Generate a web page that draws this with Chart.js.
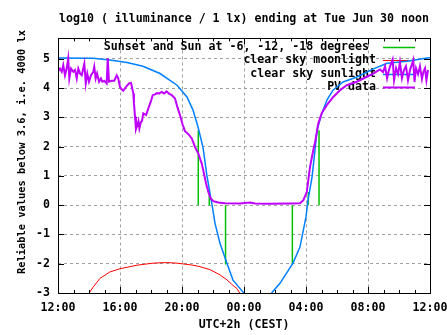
<!DOCTYPE html>
<html>
<head>
<meta charset="utf-8">
<title>illuminance</title>
<style>
  html, body { margin: 0; padding: 0; background: #fff; }
  #chart { display: block; }
</style>
</head>
<body>
<canvas id="chart" width="447" height="335"></canvas>
<script src="https://cdn.jsdelivr.net/npm/chart.js"></script>
<script>
// hours counted from 12:00 noon of the previous day
var xTickHours = [0, 4, 8, 12, 16, 20, 24];
var xTickLabels = ['12:00', '16:00', '20:00', '00:00', '04:00', '08:00', '12:00'];
var yTicks = [-3, -2, -1, 0, 1, 2, 3, 4, 5];

var titleText = 'log10 ( illuminance / 1 lx) ending at Tue Jun 30 noon';
var xTitle = 'UTC+2h (CEST)';
var yTitle = 'Reliable values below 3.6, i.e. 4000 lx';

// green impulses: sunset/sunrise and sun at -6, -12 degrees
var eventHours = [9.05, 9.76, 10.81, 15.12, 16.15, 16.84];
var eventTops = [2.56, 0.57, -2.03, -2.03, 0.45, 2.56];

var moonHours = [1.95, 2.28, 2.71, 3.35, 4.0, 5.1, 6.13, 7.0, 7.68, 8.71, 9.16, 9.8, 10.45, 10.9, 11.29, 11.55, 11.74];
var moonLog = [-3.05, -2.79, -2.5, -2.28, -2.17, -2.05, -1.98, -1.96, -1.98, -2.05, -2.1, -2.2, -2.38, -2.55, -2.74, -2.85, -3.02];

var sunHours = [0, 2.26, 3.35, 4.45, 5.48, 6.58, 7.68, 8.32, 8.71, 9.03, 9.35, 9.61, 9.94, 10.13, 10.45, 10.9, 11.29, 11.94, 12.1, 12.9, 13.7, 13.81, 14.32, 15.16, 15.61, 16.0, 16.13, 16.39, 16.58, 16.71, 17.03, 17.35, 17.74, 18.39, 19.29, 20.32, 21.23, 22.52, 23.81, 24];
var sunLog = [5.03, 5.02, 4.96, 4.88, 4.75, 4.50, 4.10, 3.70, 3.25, 2.68, 1.99, 1.00, 0.00, -0.62, -1.30, -1.98, -2.56, -2.97, -3.1, -3.7, -3.1, -2.98, -2.67, -1.98, -1.43, -0.40, 0.17, 0.96, 1.88, 2.56, 3.15, 3.59, 3.93, 4.21, 4.38, 4.65, 4.85, 4.92, 5.03, 5.04];

var pvHours = [0.02, 0.13, 0.24, 0.34, 0.45, 0.56, 0.66, 0.73, 0.84, 0.99, 1.10, 1.21, 1.31, 1.42, 1.53, 1.70, 1.79, 1.89, 2.00, 2.13,
  2.28, 2.34, 2.43, 2.52, 2.65, 2.77, 2.86, 2.99, 3.14, 3.21, 3.29, 3.46, 3.63, 3.79, 3.89, 4.00, 4.11, 4.21, 4.32, 4.43,
  4.58, 4.71, 4.86, 4.90, 4.97, 5.03, 5.12, 5.19, 5.25, 5.35, 5.42, 5.50, 5.68, 5.83, 5.98, 6.11, 6.26, 6.39, 6.54, 6.69,
  6.84, 7.01, 7.16, 7.34, 7.55, 7.70, 7.87, 8.05, 8.19, 8.41, 8.63, 8.84, 9.05, 9.27, 9.42, 9.55, 9.70, 9.85, 10.02, 10.34,
  10.77, 11.74, 12.39, 12.71, 13.68, 14.97, 15.61, 15.83, 16.05, 16.26, 16.47, 16.61, 16.79, 17.01, 17.34, 17.76, 18.19, 18.63, 19.27, 19.92,
  20.34, 20.77, 20.97, 21.10, 21.23, 21.35, 21.48, 21.59, 21.68, 21.81, 21.94, 22.06, 22.19, 22.32, 22.45, 22.58, 22.71, 22.84, 22.92, 23.00,
  23.10, 23.23, 23.35, 23.48, 23.57, 23.68, 23.77, 23.87];
var pvLog = [4.59, 4.67, 4.56, 4.79, 4.44, 4.67, 5.02, 4.33, 4.67, 4.56, 4.62, 4.33, 4.67, 4.50, 4.44, 4.84, 4.16, 4.50, 4.22, 4.44,
  4.56, 4.73, 4.33, 4.50, 4.22, 4.33, 4.22, 4.25, 4.16, 5.02, 4.22, 4.25, 4.25, 4.44, 4.33, 4.04, 3.96, 3.91, 3.99, 4.07,
  4.16, 4.18, 3.82, 3.49, 3.02, 2.60, 2.74, 2.87, 2.62, 2.84, 2.88, 3.14, 3.08, 3.31, 3.53, 3.76, 3.79, 3.83, 3.82, 3.87,
  3.82, 3.89, 3.81, 3.76, 3.65, 3.36, 3.08, 2.74, 2.53, 2.43, 2.28, 1.99, 1.77, 1.43, 1.08, 0.74, 0.45, 0.23, 0.14, 0.09,
  0.07, 0.06, 0.09, 0.06, 0.05, 0.06, 0.07, 0.17, 0.45, 1.31, 1.88, 2.22, 2.79, 3.14, 3.42, 3.70, 3.93, 4.10, 4.22, 4.39,
  4.50, 4.64, 4.55, 4.75, 4.34, 4.62, 4.82, 4.98, 4.27, 4.68, 4.48, 4.89, 4.34, 4.62, 4.75, 4.27, 4.62, 4.82, 4.96, 4.21,
  4.68, 4.48, 4.75, 4.31, 4.55, 4.68, 4.27, 4.62];

function pairs(xs, ys) {
  return xs.map(function (x, i) { return { x: x, y: ys[i] }; });
}

var eventData = [];
for (var i = 0; i < eventHours.length; i++) {
  eventData.push({ x: eventHours[i], y: 0 });
  eventData.push({ x: eventHours[i], y: eventTops[i] });
  eventData.push({ x: eventHours[i], y: null });
}

var FONT = "'DejaVu Sans Mono', monospace";
Chart.defaults.font.family = FONT;
Chart.defaults.font.size = 11.6;
Chart.defaults.font.weight = 'bold';
Chart.defaults.color = '#000';

// gnuplot style key, frame, tick marks and y label
var gnuplotBits = {
  id: 'gnuplotBits',
  beforeDatasetsDraw: function (chart) {
    var ctx = chart.ctx;
    ctx.save();
    ctx.setLineDash([]);
    ctx.font = 'bold 11.6px ' + FONT;
    ctx.textAlign = 'right';
    ctx.textBaseline = 'middle';
    chart.data.datasets.forEach(function (ds, i) {
      var y = 47 + i * 13.3;
      ctx.fillStyle = '#000';
      ctx.fillText(ds.label, 376, y);
      ctx.strokeStyle = ds.borderColor;
      ctx.lineWidth = ds.borderWidth;
      ctx.beginPath();
      ctx.moveTo(383, Math.round(y) + 0.5);
      ctx.lineTo(415, Math.round(y) + 0.5);
      ctx.stroke();
    });
    ctx.restore();
  },
  afterDatasetsDraw: function (chart) {
    var ctx = chart.ctx, a = chart.chartArea;
    var xs = chart.scales.x, ys = chart.scales.y;
    ctx.save();
    ctx.setLineDash([]);
    ctx.strokeStyle = '#000';
    ctx.lineWidth = 1;
    ctx.beginPath();
    for (var h = 0; h <= 24; h++) {
      var px = Math.round(xs.getPixelForValue(h)) + 0.5;
      var len = (h % 4 === 0) ? 6 : 3;
      ctx.moveTo(px, a.bottom);
      ctx.lineTo(px, a.bottom - len);
      ctx.moveTo(px, a.top);
      ctx.lineTo(px, a.top + len);
    }
    yTicks.forEach(function (v) {
      var py = Math.round(ys.getPixelForValue(v)) + 0.5;
      ctx.moveTo(a.left, py);
      ctx.lineTo(a.left + 6, py);
      ctx.moveTo(a.right, py);
      ctx.lineTo(a.right - 6, py);
    });
    ctx.stroke();
    ctx.strokeRect(Math.round(a.left) + 0.5, Math.round(a.top) + 0.5,
      Math.round(a.right - a.left), Math.round(a.bottom - a.top));
    ctx.restore();
  },
  afterDraw: function (chart) {
    var ctx = chart.ctx;
    ctx.save();
    ctx.translate(22, 152);
    ctx.rotate(-Math.PI / 2);
    ctx.font = 'bold 10.4px ' + FONT;
    ctx.fillStyle = '#000';
    ctx.textAlign = 'center';
    ctx.textBaseline = 'middle';
    ctx.fillText(yTitle, 0, 0);
    ctx.restore();
  }
};

new Chart(document.getElementById('chart'), {
  type: 'line',
  data: {
    datasets: [{
      label: 'Sunset and Sun at -6, -12, -18 degrees ',
      data: eventData,
      borderColor: '#00c000',
      borderWidth: 1.5,
      spanGaps: false,
      order: 4
    }, {
      label: 'clear sky moonlight',
      data: pairs(moonHours, moonLog),
      borderColor: '#ff0000',
      borderWidth: 1,
      order: 3
    }, {
      label: 'clear sky sunlight',
      data: pairs(sunHours, sunLog),
      borderColor: '#0080ff',
      borderWidth: 1.5,
      order: 2
    }, {
      label: 'PV data',
      data: pairs(pvHours, pvLog),
      borderColor: '#c000ff',
      borderWidth: 2,
      order: 1
    }]
  },
  options: {
    responsive: false,
    animation: false,
    layout: { padding: { left: 0, right: 17, top: 0, bottom: 0 } },
    elements: {
      point: { radius: 0 },
      line: { tension: 0, borderJoinStyle: 'miter', fill: false }
    },
    plugins: {
      legend: { display: false },
      tooltip: { enabled: false },
      title: {
        display: true,
        text: titleText,
        fullSize: false,
        font: { size: 11.6, weight: 'bold' },
        padding: { top: 12, bottom: 12.5 }
      }
    },
    scales: {
      x: {
        type: 'linear',
        min: 0,
        max: 24,
        afterBuildTicks: function (s) { s.ticks = xTickHours.map(function (v) { return { value: v }; }); },
        afterFit: function (s) { s.height = 42; s.paddingLeft = 0; s.paddingRight = 0; },
        ticks: {
          autoSkip: false,
          maxRotation: 0,
          padding: 8,
          callback: function (v, i) { return xTickLabels[i]; }
        },
        grid: { color: '#a0a0a0', drawTicks: false, lineWidth: 1 },
        border: { display: false, dash: [3, 3] },
        title: { display: true, text: xTitle, padding: { top: 0, bottom: 3 } }
      },
      y: {
        min: -3,
        max: 5.7,
        afterBuildTicks: function (s) { s.ticks = yTicks.map(function (v) { return { value: v }; }); },
        afterFit: function (s) { s.width = 58; s.paddingTop = 0; s.paddingBottom = 0; },
        ticks: { padding: 8 },
        grid: { color: '#a0a0a0', drawTicks: false, lineWidth: 1 },
        border: { display: false, dash: [3, 3] }
      }
    }
  },
  plugins: [gnuplotBits]
});
</script>
</body>
</html>
